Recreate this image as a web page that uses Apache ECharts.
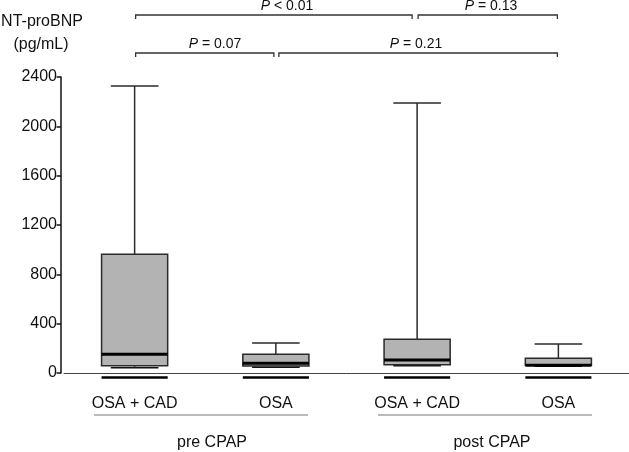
<!DOCTYPE html>
<html>
<head>
<meta charset="utf-8">
<script src="https://cdn.jsdelivr.net/npm/echarts@6/dist/echarts.min.js"></script>
<style>
html,body{margin:0;padding:0;background:#fff;}
#c{width:629px;height:452px;}
</style>
</head>
<body>
<div id="c"></div>
<script>
// ---- data ----
var categories = ['OSA + CAD', 'OSA', 'OSA + CAD ', 'OSA '];
var minVals    = [51, 55, 67, 62];
var q1Vals     = [59, 57, 67, 62];
var medianVals = [152, 79, 105, 63];
var q3Vals     = [963, 152, 273, 119];
var maxVals    = [2327, 243, 2190, 235];
var yTicks     = [0, 400, 800, 1200, 1600, 2000, 2400];
var groups     = ['pre CPAP', 'post CPAP'];
var pLabels    = ['< 0.01', '= 0.13', '= 0.07', '= 0.21'];

var FONT = 'Liberation Sans, Arial, sans-serif';
var chart = echarts.init(document.getElementById('c'), null, {renderer: 'canvas'});

var boxData = categories.map(function (c, i) {
  return [i, minVals[i], q1Vals[i], medianVals[i], q3Vals[i], maxVals[i]];
});

function renderItem(params, api) {
  var xi = api.value(0);
  var size = api.size([1, 0]);
  var bw = size[0] * 0.468;
  var cw = bw * 0.72;
  var cx = api.coord([xi, 0])[0];
  var yMin = api.coord([xi, api.value(1)])[1];
  var yQ1 = api.coord([xi, api.value(2)])[1];
  var yMed = api.coord([xi, api.value(3)])[1];
  var yQ3 = api.coord([xi, api.value(4)])[1];
  var yMax = api.coord([xi, api.value(5)])[1];
  var y0 = api.coord([xi, 0])[1];
  var lineStyle = {stroke: '#2a2a2a', lineWidth: 1.5};
  var children = [
    {type: 'line', shape: {x1: cx, y1: yMax, x2: cx, y2: yQ3}, style: lineStyle},
    {type: 'line', shape: {x1: cx - cw / 2, y1: yMax, x2: cx + cw / 2, y2: yMax}, style: lineStyle},
    {type: 'line', shape: {x1: cx, y1: yQ1, x2: cx, y2: yMin}, style: lineStyle},
    {type: 'line', shape: {x1: cx - cw / 2, y1: yMin + 1, x2: cx + cw / 2, y2: yMin + 1}, style: {stroke: '#111', lineWidth: 1.5}},
    {type: 'rect', shape: {x: cx - bw / 2, y: yQ3, width: bw, height: yQ1 - yQ3},
      style: {fill: '#b3b3b3', stroke: '#2a2a2a', lineWidth: 1.5}},
    {type: 'line', shape: {x1: cx - bw / 2, y1: yMed, x2: cx + bw / 2, y2: yMed}, style: {stroke: '#000', lineWidth: 3}},
    {type: 'line', shape: {x1: cx - bw / 2, y1: y0 + 4.5, x2: cx + bw / 2, y2: y0 + 4.5}, style: {stroke: '#000', lineWidth: 2.5}}
  ];
  return {type: 'group', children: children};
}

chart.setOption({
  animation: false,
  grid: {left: 64, right: 0, top: 77, bottom: 79, containLabel: false, outerBoundsMode: 'none'},
  xAxis: {
    type: 'category',
    data: categories,
    offset: 4.5,
    axisLine: {lineStyle: {color: '#444', width: 1}},
    axisTick: {show: false},
    axisLabel: {margin: 18, fontSize: 16, color: '#111', fontFamily: FONT,
      formatter: function (v) { return v.trim(); }}
  },
  yAxis: {
    type: 'value',
    min: yTicks[0], max: yTicks[yTicks.length - 1], interval: 400,
    offset: 3,
    axisLine: {show: true, lineStyle: {color: '#111', width: 1.5}},
    axisTick: {show: true, length: 4.5, lineStyle: {color: '#111', width: 1.5}},
    axisLabel: {margin: 4, fontSize: 16, color: '#111', fontFamily: FONT,
      formatter: function (v) { return String(v); }},
    splitLine: {show: false}
  },
  series: [{
    type: 'custom',
    renderItem: renderItem,
    data: boxData,
    encode: {x: 0, y: [1, 5]},
    clip: false
  }]
});

// annotations
var c = categories.map(function (cat) { return chart.convertToPixel({xAxisIndex: 0}, cat); });
function bracket(x1, x2, y) {
  return {type: 'polyline', shape: {points: [[x1, y + 4], [x1, y], [x2, y], [x2, y + 4]]},
    style: {stroke: '#333', lineWidth: 1.3, fill: null}};
}
function pText(x, y, t) {
  return {type: 'text', x: x, y: y, style: {
    text: '{i|P} ' + t, align: 'center', verticalAlign: 'middle',
    fontSize: 14, fontFamily: FONT, fill: '#111',
    rich: {i: {fontStyle: 'italic', fontSize: 14, fontFamily: FONT, fill: '#111'}}
  }};
}
function label(x, y, t, size, align) {
  return {type: 'text', x: x, y: y, style: {text: t, align: align || 'center', verticalAlign: 'middle',
    fontSize: size, fontFamily: FONT, fill: '#111'}};
}
chart.setOption({
  graphic: [
    bracket(c[0] + 1, c[2] - 5, 15),
    bracket(c[2] + 1, c[3] - 1, 15),
    bracket(c[0] + 1, c[1] - 2, 53),
    bracket(c[1] + 3, c[3] - 1, 53),
    pText(287, 6, pLabels[0]),
    pText(491, 6, pLabels[1]),
    pText(215, 44, pLabels[2]),
    pText(416, 44, pLabels[3]),
    label(42, 22, 'NT-proBNP', 16),
    label(41, 45, '(pg/mL)', 16),
    {type: 'line', shape: {x1: 94, y1: 415, x2: 308, y2: 415}, style: {stroke: '#777', lineWidth: 1}},
    {type: 'line', shape: {x1: 378, y1: 415, x2: 592, y2: 415}, style: {stroke: '#777', lineWidth: 1}},
    label(212, 443, groups[0], 16),
    label(492, 443, groups[1], 16)
  ]
});
</script>
</body>
</html>
